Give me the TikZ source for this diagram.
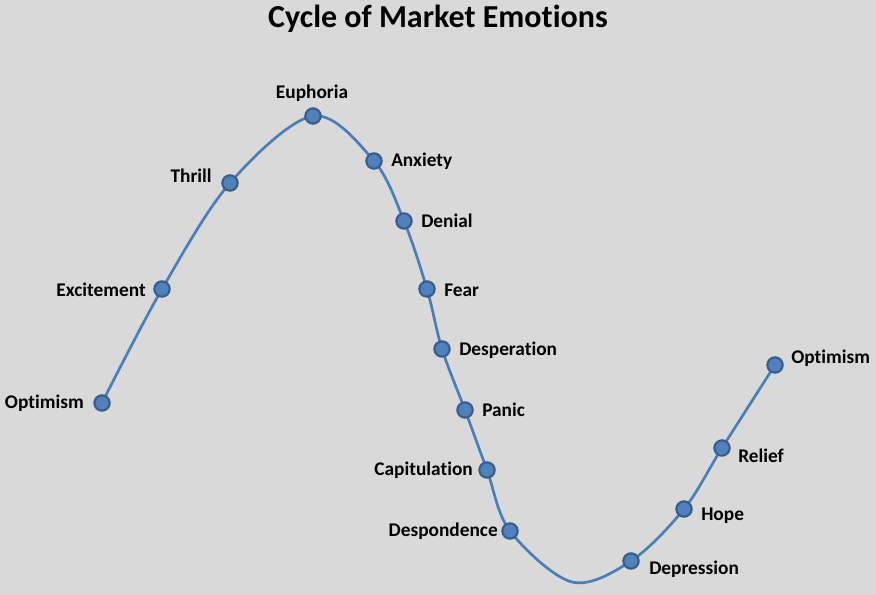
\documentclass[tikz,border=0pt]{standalone}
\usepackage{fontspec}
\setmainfont[Ligatures=NoCommon]{Carlito}
\definecolor{bg}{HTML}{D9D9D9}
\definecolor{linecol}{HTML}{4A7EBB}
\definecolor{mfill}{HTML}{4F81BD}
\definecolor{mdraw}{HTML}{385D8A}
\begin{document}
\begin{tikzpicture}[x=0.75pt,y=-0.75pt,
  mk/.style={circle,fill=mfill,draw=mdraw,line width=1.6pt,minimum size=11.5pt,inner sep=0pt},
  lbl/.style={font=\bfseries\fontsize{14.5}{16}\selectfont,text=black,inner sep=0pt},
  curve/.style={draw=linecol,line width=2pt}]
\fill[bg] (0,0) rectangle (876,595);
\useasboundingbox (0,0) rectangle (876,595);
\node[font=\bfseries\fontsize{24}{28}\selectfont] (title) at (438,19) {Cycle of Market Emotions};
\draw[curve] plot[smooth,tension=0.55] coordinates {(102,403) (162,289) (230,183) (313,116) (374,161) (404,221) (427,289) (442,349) (465,410) (487,470) (510,531) (572,582) (631,561) (684,509) (722,448) (775,365)};
\node[mk] (m1) at (102,403) {};
\node[mk] (m2) at (162,289) {};
\node[mk] (m3) at (230,183) {};
\node[mk] (m4) at (313,116) {};
\node[mk] (m5) at (374,161) {};
\node[mk] (m6) at (404,221) {};
\node[mk] (m7) at (427,289) {};
\node[mk] (m8) at (442,349) {};
\node[mk] (m9) at (465,410) {};
\node[mk] (m10) at (487,470) {};
\node[mk] (m11) at (510,531) {};
\node[mk] (m12) at (631,561) {};
\node[mk] (m13) at (684,509) {};
\node[mk] (m14) at (722,448) {};
\node[mk] (m15) at (775,365) {};
\node[lbl,anchor=east] (l1) at (84,403) {Optimism};
\node[lbl,anchor=east] (l2) at (146,290) {Excitement};
\node[lbl,anchor=east] (l3) at (212,176) {Thrill};
\node[lbl] (l4) at (312,93) {Euphoria};
\node[lbl,anchor=west] (l5) at (391,161) {Anxiety};
\node[lbl,anchor=west] (l6) at (421,221) {Denial};
\node[lbl,anchor=west] (l7) at (444,290) {Fear};
\node[lbl,anchor=west] (l8) at (459,350) {Desperation};
\node[lbl,anchor=west] (l9) at (482,410) {Panic};
\node[lbl,anchor=east] (l10) at (473,470) {Capitulation};
\node[lbl,anchor=east] (l11) at (498,531) {Despondence};
\node[lbl,anchor=west] (l12) at (649,569) {Depression};
\node[lbl,anchor=west] (l13) at (701,516) {Hope};
\node[lbl,anchor=west] (l14) at (738,456) {Relief};
\node[lbl,anchor=west] (l15) at (791,358) {Optimism};
\end{tikzpicture}
\end{document}
